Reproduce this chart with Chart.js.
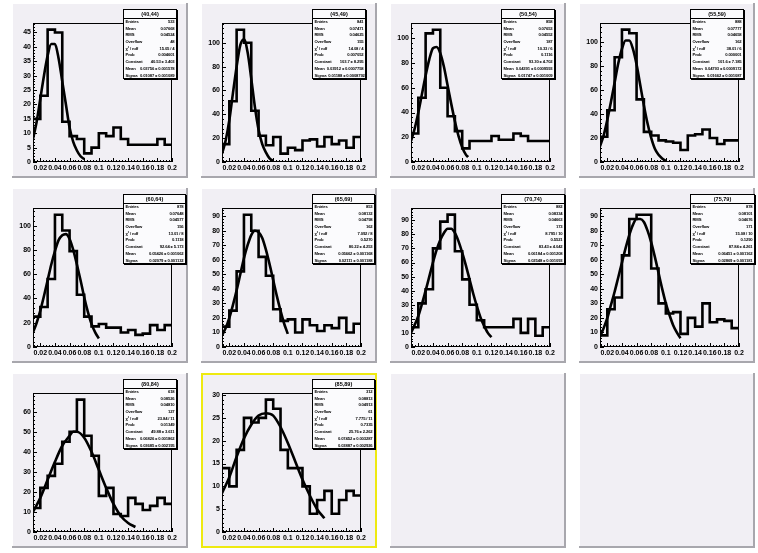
<!DOCTYPE html>
<html>
<head>
<meta charset="utf-8">
<script src="https://cdn.jsdelivr.net/npm/chart.js@4.4.1/dist/chart.umd.min.js"></script>
<style>
  body { margin: 0; background: #fff; }
  #canvas { position: relative; width: 758px; height: 553px; overflow: hidden; }
  .pad { position: absolute; width: 176px; height: 175px; background: #f1eff4;
         box-shadow: inset -2px -2px 0 #a8a7ad, inset 1px 1px 0 #fff; }
  .pad.active { box-shadow: inset 0 0 0 2px #eeea10; }
  .pad canvas { position: absolute; left: 0; top: 0; }
  .stats { position: absolute; top: 6px; left: 111px; height: 70px; box-sizing: border-box;
           background: #fbfbfd; border: 1px solid #000; box-shadow: 1px 1px 0 #000;
           font: bold 4.2px "Liberation Sans", Arial, sans-serif; color: #000; }
  .stats .title { height: 8px; line-height: 8px; text-align: center; font-size: 5.5px; border-bottom: 1px solid #000; }
  .stats .row { display: flex; justify-content: space-between; height: 6.7px; line-height: 6.7px;
                padding: 0 1.5px; white-space: nowrap; letter-spacing: -0.15px; }
  .stats .row span + span { margin-left: 2px; }
</style>
</head>
<body>
<div id="canvas"></div>
<script>
const BIN_EDGES = [0.01, 0.02, 0.03, 0.04, 0.05, 0.06, 0.07, 0.08, 0.09, 0.1,
                   0.11, 0.12, 0.13, 0.14, 0.15, 0.16, 0.17, 0.18, 0.19, 0.2];
const X_TICKS = [0.02, 0.04, 0.06, 0.08, 0.1, 0.12, 0.14, 0.16, 0.18, 0.2];

const TITLES = ['(40,44)', '(45,49)', '(50,54)', '(55,59)', '(60,64)',
                '(65,69)', '(70,74)', '(75,79)', '(80,84)', '(85,89)'];

// bin contents, one array per pad
const h40_44 = [15, 23, 46, 45, 14, 9, 8, 3, 5, 10, 9, 12, 8, 6, 6, 6, 6, 8, 6];
const h45_49 = [15, 51, 111, 100, 43, 22, 14, 21, 7, 12, 10, 18, 19, 13, 21, 15, 18, 12, 21];
const h50_54 = [23, 52, 104, 107, 60, 37, 25, 11, 17, 17, 17, 21, 18, 18, 23, 21, 17, 17, 17];
const h55_59 = [21, 43, 87, 110, 107, 52, 25, 22, 18, 17, 16, 10, 22, 23, 27, 20, 15, 18, 18];
const h60_64 = [25, 33, 56, 109, 96, 79, 43, 25, 17, 19, 16, 16, 12, 14, 10, 11, 18, 14, 18];
const h65_69 = [14, 25, 52, 91, 80, 62, 49, 26, 18, 19, 10, 19, 15, 11, 15, 13, 20, 10, 16];
const h70_74 = [14, 31, 41, 70, 89, 94, 68, 48, 30, 19, 14, 14, 14, 14, 20, 10, 20, 8, 14];
const h75_79 = [8, 26, 34, 63, 88, 91, 91, 54, 30, 23, 24, 9, 20, 14, 30, 17, 19, 18, 13];
const h80_84 = [12, 22, 28, 34, 45, 50, 66, 48, 38, 18, 22, 9, 8, 17, 14, 11, 13, 17, 14];
const h85_89 = [14, 10, 18, 25, 24, 25, 29, 27, 18, 14, 14, 10, 4, 7, 9, 4, 7, 9, 8];

// gaussian fit curves, [x, y]
const fit40_44 = [[0.01, 8], [0.015, 14], [0.02, 22], [0.025, 30], [0.03, 37], [0.035, 41], [0.04, 41],
                  [0.045, 36], [0.05, 28], [0.055, 20], [0.06, 12], [0.065, 7], [0.07, 4], [0.075, 2], [0.08, 1]];
const fit45_49 = [[0.01, 7], [0.015, 18], [0.02, 35], [0.025, 58], [0.03, 80], [0.035, 98], [0.04, 103],
                  [0.045, 92], [0.05, 70], [0.055, 46], [0.06, 27], [0.065, 15], [0.07, 8], [0.075, 3], [0.08, 1]];
const fit50_54 = [[0.01, 17], [0.015, 27], [0.02, 40], [0.025, 55], [0.03, 70], [0.035, 83], [0.04, 92],
                  [0.045, 93], [0.05, 88], [0.055, 77], [0.06, 62], [0.065, 47], [0.07, 33], [0.075, 21],
                  [0.08, 12], [0.085, 6], [0.088, 4]];
const fit55_59 = [[0.01, 13], [0.015, 22], [0.02, 35], [0.025, 50], [0.03, 66], [0.035, 82], [0.04, 94],
                  [0.045, 101], [0.05, 101], [0.055, 94], [0.06, 81], [0.065, 64], [0.07, 47], [0.075, 32],
                  [0.08, 20], [0.085, 11], [0.09, 6], [0.095, 3], [0.1, 1]];
const fit60_64 = [[0.01, 12], [0.015, 20], [0.02, 30], [0.025, 42], [0.03, 55], [0.035, 68], [0.04, 79],
                  [0.045, 88], [0.05, 92], [0.055, 93], [0.06, 89], [0.065, 80], [0.07, 68], [0.075, 55],
                  [0.08, 41], [0.085, 29], [0.09, 19], [0.095, 12], [0.1, 7]];
const fit65_69 = [[0.01, 8], [0.015, 13], [0.02, 20], [0.025, 29], [0.03, 39], [0.035, 50], [0.04, 61],
                  [0.045, 70], [0.05, 77], [0.055, 80], [0.06, 79], [0.065, 75], [0.07, 67], [0.075, 57],
                  [0.08, 46], [0.085, 35], [0.09, 25], [0.095, 16], [0.1, 9]];
const fit70_74 = [[0.01, 10], [0.02, 22], [0.03, 40], [0.035, 50], [0.04, 60], [0.045, 69], [0.05, 76],
                  [0.055, 81], [0.06, 84], [0.065, 84], [0.07, 81], [0.075, 75], [0.08, 67], [0.085, 58],
                  [0.09, 48], [0.095, 38], [0.1, 29], [0.105, 21], [0.11, 15], [0.115, 10], [0.12, 7]];
const fit75_79 = [[0.01, 7], [0.015, 13], [0.02, 20], [0.025, 29], [0.03, 38], [0.035, 48], [0.04, 58],
                  [0.045, 68], [0.05, 77], [0.055, 84], [0.06, 88], [0.065, 88], [0.07, 86], [0.075, 80],
                  [0.08, 72], [0.085, 62], [0.09, 51], [0.095, 40], [0.1, 30], [0.105, 22], [0.11, 15],
                  [0.115, 10], [0.12, 6]];
const fit80_84 = [[0.01, 10], [0.02, 17], [0.03, 26], [0.04, 35], [0.05, 43], [0.06, 48], [0.065, 50],
                  [0.07, 50], [0.08, 47], [0.09, 40], [0.1, 31], [0.11, 22], [0.12, 14], [0.13, 8],
                  [0.14, 4.5], [0.15, 2.5]];
const fit85_89 = [[0.01, 8.5], [0.02, 12], [0.03, 16.5], [0.04, 20.5], [0.05, 23.5], [0.06, 25.5], [0.07, 26],
                  [0.08, 25.5], [0.09, 23], [0.1, 19.5], [0.11, 15.5], [0.12, 11.5], [0.13, 8], [0.14, 5], [0.15, 3]];

const Y_MAX = [48.3, 116.6, 112.4, 115.5, 114.5, 95.6, 98.7, 95.6, 69.3, 30.45];
const Y_TICKS = [
    [0, 5, 10, 15, 20, 25, 30, 35, 40, 45],
    [0, 20, 40, 60, 80, 100],
    [0, 20, 40, 60, 80, 100],
    [0, 20, 40, 60, 80, 100],
    [0, 20, 40, 60, 80, 100],
    [0, 10, 20, 30, 40, 50, 60, 70, 80, 90],
    [0, 10, 20, 30, 40, 50, 60, 70, 80, 90],
    [0, 10, 20, 30, 40, 50, 60, 70, 80, 90],
    [0, 10, 20, 30, 40, 50, 60],
    [0, 5, 10, 15, 20, 25, 30]
];

// stat box contents
const STAT_LABELS = ['Entries', 'Mean', 'RMS', 'Overflow', 'χ² / ndf', 'Prob', 'Constant', 'Mean', 'Sigma'];
const ENTRIES = ['533', '841', '858', '888', '878', '853', '882', '878', '618', '312'];
const MEANS = ['0.07668', '0.07471', '0.07653', '0.07777', '0.07648', '0.08132', '0.08334', '0.08101', '0.08526', '0.08813'];
const RMS = ['0.04524', '0.04625', '0.04552', '0.04658', '0.04577', '0.04798', '0.04663', '0.04676', '0.04810', '0.04913'];
const OVERFLOW = ['48', '155', '187', '162', '156', '162', '173', '171', '127', '61'];
const CHI2 = ['15.05 / 4', '14.08 / 4', '10.33 / 6', '38.01 / 6', '13.01 / 8', '7.092 / 8', '8.795 / 10', '15.08 / 10', '23.84 / 11', '7.775 / 11'];
const PROB = ['0.004601', '0.007052', '0.1116', '0.000001', '0.1118', '0.5270', '0.5521', '0.1290', '0.01349', '0.7335'];
const CONSTANT = ['40.53 ± 3.403', '103.7 ± 8.295', '93.30 ± 4.702', '101.6 ± 7.185', '92.64 ± 5.173',
                  '80.22 ± 4.253', '83.43 ± 4.042', '87.84 ± 4.261', '49.88 ± 3.611', '25.76 ± 2.262'];
const FIT_MEAN = ['0.03756 ± 0.001578', '0.03912 ± 0.0007758', '0.04391 ± 0.0009593', '0.04793 ± 0.0009172',
                  '0.05426 ± 0.001062', '0.05662 ± 0.001168', '0.06184 ± 0.001208', '0.06451 ± 0.001162',
                  '0.06826 ± 0.001862', '0.07452 ± 0.003287'];
const SIGMA = ['0.01087 ± 0.001089', '0.01188 ± 0.0008792', '0.01747 ± 0.001009', '0.01662 ± 0.001087',
               '0.02079 ± 0.001132', '0.02111 ± 0.001188', '0.02548 ± 0.001093', '0.02869 ± 0.001181',
               '0.03685 ± 0.002195', '0.03887 ± 0.002926'];

const COUNTS = [h40_44, h45_49, h50_54, h55_59, h60_64, h65_69, h70_74, h75_79, h80_84, h85_89];
const FITS = [fit40_44, fit45_49, fit50_54, fit55_59, fit60_64, fit65_69, fit70_74, fit75_79, fit80_84, fit85_89];

// layout
const PAD_W = 176, PAD_H = 175;
const STAT_W = [54, 54, 54, 54, 63, 63, 64, 65, 54, 63];
const tickFont = { family: '"Liberation Sans", Arial, sans-serif', size: 7, weight: 'bold' };

// ROOT style frame + ticks pointing into the frame
const rootAxes = {
    id: 'rootAxes',
    afterDraw(chart) {
        const { ctx, chartArea: a, scales: { x, y } } = chart;
        ctx.save();
        ctx.strokeStyle = '#000';
        ctx.lineWidth = 1;
        ctx.strokeRect(a.left + 0.5, a.top + 0.5, a.right - a.left - 1, a.bottom - a.top - 1);

        ctx.beginPath();
        const xm = (X_TICKS[1] - X_TICKS[0]) / 5;
        for (let k = Math.ceil(x.min / xm - 1e-6); k * xm <= x.max + 1e-9; k++) {
            const px = Math.round(x.getPixelForValue(k * xm)) + 0.5;
            const len = k % 5 === 0 ? 4 : 2;
            ctx.moveTo(px, a.bottom);
            ctx.lineTo(px, a.bottom - len);
        }
        const yt = y.ticks;
        const ym = (yt[1].value - yt[0].value) / 5;
        for (let k = 0; k * ym <= y.max + 1e-9; k++) {
            const py = Math.round(y.getPixelForValue(k * ym)) + 0.5;
            const len = k % 5 === 0 ? 4 : 2;
            ctx.moveTo(a.left, py);
            ctx.lineTo(a.left + len, py);
        }
        ctx.stroke();
        ctx.restore();
    }
};

function statsBox(i) {
    const box = document.createElement('div');
    box.className = 'stats';
    box.style.width = STAT_W[i] + 'px';
    const vals = [ENTRIES[i], MEANS[i], RMS[i], OVERFLOW[i], CHI2[i], PROB[i], CONSTANT[i], FIT_MEAN[i], SIGMA[i]];
    let html = `<div class="title">${TITLES[i]}</div>`;
    STAT_LABELS.forEach((label, r) => {
        html += `<div class="row"><span>${label}</span><span>${vals[r]}</span></div>`;
    });
    box.innerHTML = html;
    return box;
}

function makePad(col, row) {
    const pad = document.createElement('div');
    pad.className = 'pad';
    pad.style.left = (12 + 189 * col) + 'px';
    pad.style.top = (3 + 185 * row) + 'px';
    document.getElementById('canvas').appendChild(pad);
    return pad;
}

function drawHist(i) {
    const pad = makePad(i % 4, Math.floor(i / 4));
    if (i === 9) pad.classList.add('active');

    const canvas = document.createElement('canvas');
    canvas.width = PAD_W;
    canvas.height = PAD_H;
    pad.appendChild(canvas);

    // one point per lower bin edge, plus the upper edge of the last bin
    const counts = COUNTS[i];
    const hist = counts.map((c, b) => ({ x: BIN_EDGES[b], y: c }));
    hist.push({ x: BIN_EDGES[BIN_EDGES.length - 1], y: counts[counts.length - 1] });

    new Chart(canvas.getContext('2d'), {
        type: 'line',
        data: {
            datasets: [{
                data: hist,
                stepped: true,
                borderColor: '#000',
                borderWidth: 2.6,
                borderJoinStyle: 'miter',
                pointRadius: 0,
                fill: false
            }, {
                data: FITS[i].map(p => ({ x: p[0], y: p[1] })),
                borderColor: '#000',
                borderWidth: 2.6,
                pointRadius: 0,
                cubicInterpolationMode: 'monotone',
                fill: false
            }]
        },
        options: {
            responsive: false,
            animation: false,
            events: [],
            layout: { padding: { top: 20, right: 16, left: 0, bottom: 0 } },
            plugins: { legend: { display: false }, tooltip: { enabled: false } },
            scales: {
                x: {
                    type: 'linear',
                    min: BIN_EDGES[0],
                    max: BIN_EDGES[BIN_EDGES.length - 1],
                    grid: { display: false, drawTicks: false },
                    border: { display: false },
                    afterBuildTicks: s => { s.ticks = X_TICKS.map(v => ({ value: v })); },
                    afterFit: s => { s.height = 16; },
                    ticks: {
                        autoSkip: false, maxRotation: 0, minRotation: 0, padding: 2,
                        color: '#000', font: tickFont,
                        callback: v => String(+v.toFixed(2))
                    }
                },
                y: {
                    type: 'linear',
                    min: 0,
                    max: Y_MAX[i],
                    grid: { display: false, drawTicks: false },
                    border: { display: false },
                    afterBuildTicks: s => { s.ticks = Y_TICKS[i].map(v => ({ value: v })); },
                    afterFit: s => { s.width = 21; },
                    ticks: { padding: 2, color: '#000', font: tickFont, callback: v => String(v) }
                }
            }
        },
        plugins: [rootAxes]
    });

    pad.appendChild(statsBox(i));
}

for (let i = 0; i < COUNTS.length; i++) drawHist(i);
// two empty pads in the last row
makePad(2, 2);
makePad(3, 2);
</script>
</body>
</html>
